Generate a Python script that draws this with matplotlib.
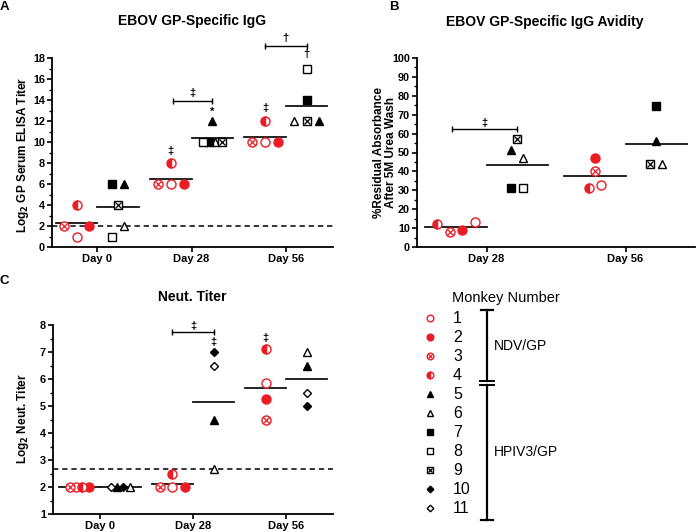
import matplotlib
matplotlib.use("Agg")
import matplotlib.pyplot as plt
import numpy as np
from matplotlib.ticker import MultipleLocator

plt.rcParams["font.family"] = ["Liberation Sans", "DejaVu Sans"]

# ---- data (one entry per monkey 1..11, None = not measured) ----
MONKEYS = [1, 2, 3, 4, 5, 6, 7, 8, 9, 10, 11]
NDV_MONKEYS = [1, 2, 3, 4]
HPIV3_MONKEYS = [5, 6, 7, 8, 9, 10, 11]

IGG_DAYS = ["Day 0", "Day 28", "Day 56"]
IGG_DAY0 = [1, 2, 2, 4, 6, 2, 6, 1, 4, None, None]
IGG_DAY28 = [6, 6, 6, 8, 12, 10, 10, 10, 10, None, None]
IGG_DAY56 = [10, 10, 10, 12, 12, 12, 14, 17, 12, None, None]
IGG_CUTOFF = 2

AVIDITY_DAYS = ["Day 28", "Day 56"]
AVIDITY_DAY28 = [13.2, 8.9, 7.9, 12.3, 51.2, 47.3, 31.3, 31.3, 57.1, None, None]
AVIDITY_DAY56 = [32.7, 47.1, 40.2, 31.0, 56.0, 43.9, 74.8, None, 43.9, None, None]

NEUT_DAYS = ["Day 0", "Day 28", "Day 56"]
NEUT_DAY0 = [2, 2, 2, 2, 2, 2, None, None, None, 2, 2]
NEUT_DAY28 = [2, 2, 2, 2.5, 4.5, 2.65, None, None, None, 7.0, 6.5]
NEUT_DAY56 = [5.85, 5.25, 4.5, 7.1, 6.5, 7.0, None, None, None, 5.0, 5.5]
NEUT_CUTOFF = 2.68

# ---- styles ----
RED = "#ec1c24"
BLACK = "#000000"
STYLE = {
    1: dict(marker="o", mfc="white", mec=RED),
    2: dict(marker="o", mfc=RED, mec=RED),
    3: dict(marker="o", mfc="white", mec=RED),
    4: dict(marker="o", mfc=RED, mec=RED, fillstyle="left", markerfacecoloralt="white"),
    5: dict(marker="^", mfc=BLACK, mec=BLACK),
    6: dict(marker="^", mfc="white", mec=BLACK),
    7: dict(marker="s", mfc=BLACK, mec=BLACK),
    8: dict(marker="s", mfc="white", mec=BLACK),
    9: dict(marker="s", mfc="white", mec=BLACK),
    10: dict(marker="D", mfc=BLACK, mec=BLACK),
    11: dict(marker="D", mfc="white", mec=BLACK),
}
SIZE_SCALE = {"o": 1.0, "^": 0.9, "s": 0.9, "D": 0.7}
CROSSED = {3: RED, 9: BLACK}

W, H = 696, 532
GROUP_OFFSET = 0.22
LINE_HALF = 0.22

fig = plt.figure(figsize=(W / 100, H / 100), dpi=100)


def px_axes(left, top, right, bottom):
    return fig.add_axes([left / W, 1 - bottom / H, (right - left) / W, (bottom - top) / H])


def draw_marker(ax, x, y, monkey, size, **kw):
    st = dict(STYLE[monkey])
    ms = size * SIZE_SCALE[st["marker"]]
    ax.plot([x], [y], linestyle="none", ms=ms, mew=1.0, **st, **kw)
    if monkey in CROSSED:
        ax.plot([x], [y], linestyle="none", marker="x", ms=ms * 0.62, mew=0.9,
                color=CROSSED[monkey], **kw)


def spread(values, members, order, tol, slot, cap):
    pts = sorted((v, m) for v, m in zip(values, members) if v is not None)
    clusters = []
    for v, m in pts:
        if clusters and v - clusters[-1][-1][0] <= tol:
            clusters[-1].append((v, m))
        else:
            clusters.append([(v, m)])
    offs = {}
    for cl in clusters:
        cl.sort(key=lambda p: order.index(p[1]))
        n = len(cl)
        step = slot if (n - 1) * slot <= cap else slot / 2
        for i, (v, m) in enumerate(cl):
            offs[m] = (i - (n - 1) / 2) * step
    return offs


def style_axes(ax, labels, xlim, ylim, major, minor):
    ax.set_xlim(*xlim)
    ax.set_ylim(*ylim)
    for s in ["top", "right"]:
        ax.spines[s].set_visible(False)
    for s in ["left", "bottom"]:
        ax.spines[s].set_linewidth(1.3)
    ax.set_xticks(range(len(labels)))
    ax.set_xticklabels(labels, fontweight="bold", fontsize=8)
    ax.yaxis.set_major_locator(MultipleLocator(major))
    ax.yaxis.set_minor_locator(MultipleLocator(minor))
    ax.tick_params(axis="both", which="major", direction="out", length=3.5, width=1.2, pad=1.5)
    ax.tick_params(axis="y", which="minor", direction="out", length=2.2, width=1.0)
    for t in ax.get_yticklabels():
        t.set_fontweight("bold")
        t.set_fontsize(7.8)


def draw_panel(ax, day_values, orders, size=6.5):
    bbox = ax.get_position()
    xr = ax.get_xlim()[1] - ax.get_xlim()[0]
    yr = ax.get_ylim()[1] - ax.get_ylim()[0]
    px_x = bbox.width * W / xr
    px_y = bbox.height * H / yr
    tol = 10.8 / px_y
    slot = 12.7 / px_x
    for d, vals in enumerate(day_values):
        for members, sign, order in [(NDV_MONKEYS, -1, orders[0]), (HPIV3_MONKEYS, 1, orders[1])]:
            gvals = [vals[m - 1] for m in members]
            present = [v for v in gvals if v is not None]
            if not present:
                continue
            center = d + sign * GROUP_OFFSET
            mean = np.mean(present)
            ax.plot([center - LINE_HALF, center + LINE_HALF], [mean, mean],
                    color="#111111", lw=1.3, zorder=2)
            offs = spread(gvals, members, order, tol, slot, 0.3)
            for m, v in zip(members, gvals):
                if v is None:
                    continue
                draw_marker(ax, center + offs[m], v, m, size, zorder=3, clip_on=False)


def bracket(ax, x0, x1, y, label, dy):
    ax.plot([x0, x1], [y, y], color=BLACK, lw=1.0, marker="|", ms=5, mew=1.0, clip_on=False)
    ax.text((x0 + x1) / 2, y + dy, label, ha="center", va="center", fontsize=8,
            fontweight="bold", clip_on=False)


def mark(ax, x, y, label):
    ax.text(x, y, label, ha="center", va="center", fontsize=8, fontweight="bold", clip_on=False)


# ---- panel A ----
ax_a = px_axes(52, 58, 333, 247)
style_axes(ax_a, IGG_DAYS, (-0.48, 2.5), (0, 18), 2, 1)
ax_a.axhline(IGG_CUTOFF, color=BLACK, lw=1.1, ls=(0, (3.5, 2.5)), zorder=1)
draw_panel(ax_a, [IGG_DAY0, IGG_DAY28, IGG_DAY56], ([3, 1, 2, 4], [8, 7, 6, 9, 5]))
mark(ax_a, 1 - GROUP_OFFSET, 9.1, "‡")
bracket(ax_a, 1 - 0.2, 1 + GROUP_OFFSET, 13.9, "‡", 0.75)
mark(ax_a, 1 + GROUP_OFFSET, 12.9, "*")
mark(ax_a, 2 - GROUP_OFFSET, 13.2, "‡")
bracket(ax_a, 2 - GROUP_OFFSET, 2 + GROUP_OFFSET, 19.1, "†", 0.8)
mark(ax_a, 2 + GROUP_OFFSET, 18.4, "†")

# ---- panel B ----
ax_b = px_axes(417, 58, 695, 247)
style_axes(ax_b, AVIDITY_DAYS, (-0.5, 1.5), (0, 100), 10, 5)
draw_panel(ax_b, [AVIDITY_DAY28, AVIDITY_DAY56], ([4, 3, 2, 1], [7, 5, 9, 6, 8]))
bracket(ax_b, -0.25, GROUP_OFFSET, 62.6, "‡", 3.0)

# ---- panel C ----
ax_c = px_axes(53, 325, 333, 514)
style_axes(ax_c, NEUT_DAYS, (-0.5, 2.5), (1, 8), 1, 0.5)
ax_c.axhline(NEUT_CUTOFF, color=BLACK, lw=1.1, ls=(0, (3.5, 2.5)), zorder=1)
draw_panel(ax_c, [NEUT_DAY0, NEUT_DAY28, NEUT_DAY56], ([3, 1, 4, 2], [11, 5, 10, 6]))
bracket(ax_c, 1 - GROUP_OFFSET, 1 + GROUP_OFFSET, 7.74, "‡", 0.22)
mark(ax_c, 1 + GROUP_OFFSET, 7.38, "‡")
mark(ax_c, 2 - GROUP_OFFSET, 7.53, "‡")

# ---- titles, axis labels, panel letters (figure pixel positions) ----
def ftext(x, y, s, **kw):
    fig.text(x / W, 1 - y / H, s, **kw)


ftext(192, 21, "EBOV GP-Specific IgG", ha="center", va="center", fontsize=10, fontweight="bold")
ftext(545, 22, "EBOV GP-Specific IgG Avidity", ha="center", va="center", fontsize=10, fontweight="bold")
ftext(192, 297, "Neut. Titer", ha="center", va="center", fontsize=10, fontweight="bold")
ftext(23, 155, "Log$_\\mathbf{2}$ GP Serum ELISA Titer", ha="center", va="center", rotation=90,
      fontsize=8.5, fontweight="bold")
ftext(385, 152, "%Residual Absorbance\nAfter 5M Urea Wash", ha="center", va="center", rotation=90,
      fontsize=8.5, fontweight="bold", linespacing=1.05)
ftext(23, 419, "Log$_\\mathbf{2}$ Neut. Titer", ha="center", va="center", rotation=90,
      fontsize=8.5, fontweight="bold")
for x, y, s in [(4, 7, "A"), (394, 7, "B"), (4, 281, "C")]:
    ftext(x, y, s, ha="center", va="center", fontsize=9.5, fontweight="bold")

# ---- legend block ----
leg = fig.add_axes([0, 0, 1, 1], zorder=-1)
leg.set_xlim(0, W)
leg.set_ylim(H, 0)
leg.axis("off")
leg.text(452, 298, "Monkey Number", ha="left", va="center", fontsize=10.5)
row0, row_step = 318, 19
for i, m in enumerate(MONKEYS):
    y = row0 + i * row_step
    draw_marker(leg, 430, y, m, 4.8)
    leg.text(453, y + 0.5, str(m), ha="left", va="center", fontsize=11.5)
bar_x, cap = 487, 6
top_y, brk_top, brk_bot, bot_y = 310, 381, 385, 520
leg.plot([bar_x, bar_x], [top_y, brk_top], color=BLACK, lw=1.6)
leg.plot([bar_x, bar_x], [brk_bot, bot_y], color=BLACK, lw=1.6)
for y in (top_y, bot_y):
    leg.plot([bar_x - cap, bar_x + cap], [y, y], color=BLACK, lw=1.6)
for y in (brk_top, brk_bot):
    leg.plot([bar_x - cap - 1, bar_x + cap + 1], [y, y], color=BLACK, lw=1.4)
leg.text(494, 346, "NDV/GP", ha="left", va="center", fontsize=10)
leg.text(494, 452, "HPIV3/GP", ha="left", va="center", fontsize=10)

fig.savefig("out.png", dpi=100)
